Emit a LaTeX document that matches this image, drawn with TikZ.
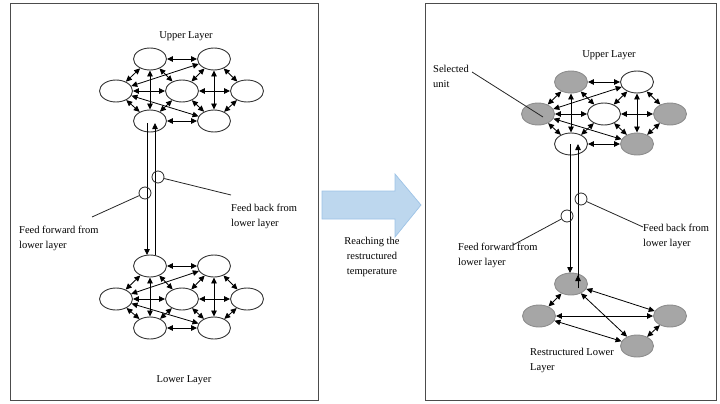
\documentclass[tikz,border=0pt]{standalone}
\usepackage{fontspec}
\setmainfont{Liberation Serif}
\usetikzlibrary{shapes.geometric,arrows.meta}
\definecolor{unitgray}{HTML}{A6A6A6}
\definecolor{arrowfill}{HTML}{BDD7EE}
\definecolor{arrowedge}{HTML}{9DC3E6}
\tikzset{
  unitw/.style={ellipse,draw=black!80,line width=0.9pt,fill=white,minimum width=33pt,minimum height=22pt,inner sep=0pt},
  unitg/.style={unitw,fill=unitgray,draw=unitgray!85!black},
  dbl/.style={line width=0.8pt,{Triangle[length=6pt,width=5.5pt]}-{Triangle[length=6pt,width=5.5pt]}},
  arr/.style={line width=0.8pt,-{Triangle[length=6pt,width=5.5pt]}},
  plain/.style={line width=0.8pt,black!85},
  panel/.style={draw=black!70,line width=0.8pt},
  tap/.style={circle,draw=black!85,line width=0.8pt,minimum size=12pt,inner sep=0pt},
  lbl/.style={font=\fontsize{10.5}{15}\selectfont,inner sep=0pt,align=left},
}
\newcommand\hexedges[1]{%
  \foreach \a/\b in {TL/TR,TL/L,TL/M,TL/BL,TR/M,TR/R,TR/BR,TR/L,L/M,L/BL,L/BR,M/R,M/BL,M/BR,R/BR,BL/BR}
    {\draw[dbl] (#1\a) -- (#1\b);}%
}
\begin{document}
\begin{tikzpicture}[x=1pt,y=-1pt]
\useasboundingbox (0,0) rectangle (720,404);
% panels
\draw[panel] (10,3) rectangle (318,400);
\draw[panel] (425,3) rectangle (716,400);

% ---- left upper layer
\node[unitw] (uTL) at (150,59) {};
\node[unitw] (uTR) at (214,59) {};
\node[unitw] (uL)  at (116,91) {};
\node[unitw] (uM)  at (182,91) {};
\node[unitw] (uR)  at (247,91) {};
\node[unitw] (uBL) at (150,121) {};
\node[unitw] (uBR) at (214,121) {};
\hexedges{u}
\node[lbl] (uLab) at (186,36) {Upper Layer};

% ---- left lower layer
\node[unitw] (dTL) at (150,266) {};
\node[unitw] (dTR) at (214,266) {};
\node[unitw] (dL)  at (116,299) {};
\node[unitw] (dM)  at (182,299) {};
\node[unitw] (dR)  at (247,299) {};
\node[unitw] (dBL) at (150,328) {};
\node[unitw] (dBR) at (214,328) {};
\hexedges{d}
\node[lbl] (dLab) at (184,380) {Lower Layer};

% left feed lines
\coordinate (ffAs) at (147,123);
\coordinate (ffAe) at (147,255);
\coordinate (fbAs) at (155,255);
\coordinate (fbAe) at (155,123);
\draw[arr] (ffAs) -- (ffAe);
\draw[arr] (fbAs) -- (fbAe);
\node[tap] (ffAc) at (145,193) {};
\node[tap] (fbAc) at (158,177) {};
\coordinate (ffAt) at (92,217);
\coordinate (fbAt) at (231,195);
\draw[plain] (ffAc) -- (ffAt);
\draw[plain] (fbAc) -- (fbAt);
\node[lbl,anchor=north west] (ffAl) at (19,226) {Feed forward from\\lower layer};
\node[lbl,anchor=north west] (fbAl) at (231,204) {Feed back from\\lower layer};

% ---- block arrow
\filldraw[fill=arrowfill,draw=arrowedge,line width=0.7pt]
  (322,191) -- (395,191) -- (395,174) -- (421,205) -- (395,237) -- (395,219) -- (322,219) -- cycle;
\node[lbl,align=center] (reach) at (372,257) {Reaching the\\restructured\\temperature};

% ---- right upper layer
\node[unitg] (rTL) at (571,82) {};
\node[unitw] (rTR) at (637,82) {};
\node[unitg] (rL)  at (538,114) {};
\node[unitw] (rM)  at (604,114) {};
\node[unitg] (rR)  at (670,114) {};
\node[unitw] (rBL) at (571,144) {};
\node[unitg] (rBR) at (637,144) {};
\hexedges{r}
\node[lbl] (rLab) at (609,55) {Upper Layer};

% selected unit
\node[lbl,anchor=north west] (sel) at (433,65) {Selected\\unit};
\coordinate (selS) at (472,72);
\coordinate (selE) at (543,117);
\draw[plain] (selS) -- (selE);

% ---- restructured lower layer
\node[unitg] (sT) at (571,284) {};
\node[unitg] (sL) at (539,316) {};
\node[unitg] (sR) at (670,316) {};
\node[unitg] (sB) at (637,346) {};
\foreach \a/\b in {T/L,T/R,T/B,L/R,L/B,R/B} {\draw[dbl] (s\a) -- (s\b);}
\node[lbl,anchor=north west] (sLab) at (530,348) {Restructured Lower\\Layer};

% right feed lines
\coordinate (ffBs) at (570,144);
\coordinate (ffBe) at (570,273);
\coordinate (fbBs) at (578,288);
\coordinate (fbBm) at (578,275);
\coordinate (fbBe) at (578,144);
\draw[arr] (ffBs) -- (ffBe);
\draw[arr] (fbBs) -- (fbBe);
\draw[arr] (fbBs) -- (fbBm);
\node[tap] (ffBc) at (567,216) {};
\node[tap] (fbBc) at (581,199) {};
\coordinate (ffBt) at (513,245);
\coordinate (fbBt) at (643,227);
\draw[plain] (ffBc) -- (ffBt);
\draw[plain] (fbBc) -- (fbBt);
\node[lbl,anchor=north west] (ffBl) at (458,243) {Feed forward from\\lower layer};
\node[lbl,anchor=north west] (fbBl) at (643,224) {Feed back from\\lower layer};
\end{tikzpicture}
\end{document}
